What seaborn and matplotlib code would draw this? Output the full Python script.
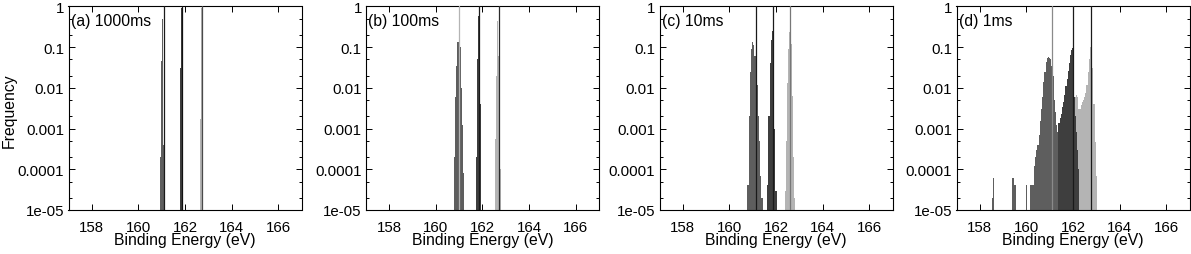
import matplotlib
matplotlib.use("Agg")

import matplotlib.pyplot as plt  # noqa: E402
import numpy as np  # noqa: E402
import pandas as pd  # noqa: E402
import seaborn as sns  # noqa: E402
from matplotlib.ticker import FixedLocator, LogLocator, NullFormatter, NullLocator  # noqa: E402

# ── Data ─────────────────────────────────────────────────────────────────────
BIN = 0.05  # eV per histogram bin
X_LIM = (157, 167)
Y_LIM = (1e-5, 1)
X_TICKS = [158, 160, 162, 164, 166]
Y_TICKS = [1e-5, 1e-4, 1e-3, 1e-2, 1e-1, 1]
Y_TICK_LABELS = ["1e-05", "0.0001", "0.001", "0.01", "0.1", "1"]
PANEL_LABELS = ["(a) 1000ms", "(b) 100ms", "(c) 10ms", "(d) 1ms"]

# each peak: centre of first bin (eV), frequency of consecutive bins
A1_START, A1 = 160.95, [2e-4, 0.046, 0.48, 4e-4]
A2_START, A2 = 161.80, [0.03, 0.9, 3.5e-4]
A3_START, A3 = 162.65, [1.7e-3, 0.9, 0.018]

B1_START, B1 = 160.80, [2e-4, 6e-3, 0.035, 0.13, 0.23, 0.1, 0.01, 1.2e-3, 8e-5]
B2_START, B2 = 161.75, [2e-4, 0.05, 0.57, 4e-3]
B3_START, B3 = 162.55, [5.5e-4, 0.02, 0.44, 0.06, 1e-4]

C1_START, C1 = 160.80, [4e-5, 2e-3, 0.025, 0.09, 0.13, 0.11, 0.06, 0.03,
                        0.012, 2e-3, 5e-4, 7e-5, 2e-5]
C2_START, C2 = 161.65, [4e-5, 2e-3, 0.04, 0.15, 0.25, 0.05, 1e-3, 3e-5]
C3_START, C3 = 162.40, [3e-5, 5e-4, 0.013, 0.09, 0.23, 0.12, 6.3e-3, 2e-4, 2e-5]

D1_START, D1 = 158.55, [2e-5, 6e-5,
                        0, 0, 0, 0, 0, 0, 0, 0, 0, 0, 0, 0, 0, 0, 0,
                        6e-5, 6e-5, 4e-5, 4e-5,
                        0, 0, 0, 0, 0, 0, 0, 0,
                        4e-5, 0, 0, 0,
                        4e-5, 4e-5, 4e-5, 1.2e-4, 2e-4, 3e-4, 4e-4, 7e-4,
                        1.5e-3, 3e-3, 6e-3, 0.014, 0.025, 0.042, 0.053, 0.057,
                        0.055, 0.05, 0.035, 0.02, 5e-3, 2.5e-3, 1.2e-3, 8e-4,
                        4e-4, 1e-4]
D2_START, D2 = 161.40, [1.4e-3, 1.8e-3, 2.3e-3, 3.4e-3, 4.5e-3, 6.5e-3, 0.011,
                        0.016, 0.026, 0.04, 0.062, 0.085, 0.095, 6e-3, 2e-3,
                        8e-4, 3e-4, 1e-4]
D3_START, D3 = 162.10, [6e-3, 6.5e-3, 6e-3, 3e-3, 3e-3, 3.8e-3, 4.4e-3, 5e-3,
                        6e-3, 7.6e-3, 0.012, 0.025, 0.05, 0.1, 0.1, 0.03, 4e-3,
                        4.6e-4, 7e-5]

PANELS = [
    [(A1_START, A1), (A2_START, A2), (A3_START, A3)],
    [(B1_START, B1), (B2_START, B2), (B3_START, B3)],
    [(C1_START, C1), (C2_START, C2), (C3_START, C3)],
    [(D1_START, D1), (D2_START, D2), (D3_START, D3)],
]

# reference level positions (eV) drawn as vertical lines
LEVELS = [
    [161.09, 161.89, 162.72],
    [161.01, 161.87, 162.69],
    [161.15, 161.87, 162.62],
    [161.11, 162.02, 162.77],
]
LEVEL_COLORS = [
    ["#1a1a1a", "#111111", "#4a4a4a"],
    ["#b4b4b4", "#1a1a1a", "#2a2a2a"],
    ["#1a1a1a", "#1a1a1a", "#777777"],
    ["#8a8a8a", "#1a1a1a", "#1a1a1a"],
]

PEAK_COLORS = ["#5e5e5e", "#3e3e3e", "#b4b4b4"]
DRAW_ORDER = [2, 0, 1]  # light peak first, darkest on top

# ── Figure ───────────────────────────────────────────────────────────────────
sns.set_theme(style="ticks")
plt.rcParams["font.family"] = ["Liberation Sans", "DejaVu Sans"]
plt.rcParams["axes.linewidth"] = 0.8

W, H = 1191, 255
fig = plt.figure(figsize=(W / 100, H / 100), dpi=100)
lefts = [68.5, 366.0, 659.5, 956.5]
ax_w, ax_top, ax_bot = 233.0, 7.3, 211.0

for i, left in enumerate(lefts):
    ax = fig.add_axes([left / W, (H - ax_bot) / H, ax_w / W, (ax_bot - ax_top) / H])
    ax.set_facecolor("white")
    ax.set_yscale("log")

    for k in DRAW_ORDER:
        start, vals = PANELS[i][k]
        centres = np.round(start + BIN * np.arange(len(vals)), 3)
        edges = [float(e) for e in np.append(centres - BIN / 2, centres[-1] + BIN / 2)]
        df = pd.DataFrame({"energy": centres, "freq": vals})
        # bins are ~1 px wide: no antialiasing, so neighbouring bars leave no seams
        sns.histplot(data=df, x="energy", weights="freq", bins=edges,
                     element="bars", color=PEAK_COLORS[k], alpha=1,
                     linewidth=0, antialiased=False, ax=ax, zorder=2)

    for x, c in zip(LEVELS[i], LEVEL_COLORS[i]):
        ax.axvline(x, color=c, linewidth=0.9, zorder=3)

    ax.set_xlim(*X_LIM)
    ax.set_ylim(*Y_LIM)
    ax.xaxis.set_major_locator(FixedLocator(X_TICKS))
    ax.xaxis.set_minor_locator(NullLocator())
    ax.yaxis.set_major_locator(FixedLocator(Y_TICKS))
    ax.set_yticklabels(Y_TICK_LABELS)
    ax.yaxis.set_minor_locator(LogLocator(base=10, subs=(2.0, 5.0), numticks=20))
    ax.yaxis.set_minor_formatter(NullFormatter())

    ax.tick_params(which="both", direction="in", top=True, right=True,
                   colors="black", width=0.7, labelsize=10.8)
    ax.tick_params(which="major", length=4)
    ax.tick_params(which="minor", length=2)
    ax.tick_params(axis="x", pad=7)
    ax.tick_params(axis="y", pad=3)
    for s in ax.spines.values():
        s.set_color("black")

    ax.set_ylabel("")
    ax.set_xlabel("Binding Energy (eV)", fontsize=11.3, color="black")
    ax.xaxis.set_label_coords(0.5, -0.108)
    ax.xaxis.label.set_va("top")

    ax.text(0.01, 0.929, PANEL_LABELS[i], transform=ax.transAxes,
            ha="left", va="center", fontsize=11.3, color="black")

fig.text(9.5 / W, (H - 111) / H, "Frequency", rotation=90, ha="center",
         va="center", fontsize=11.3, color="black")

fig.savefig("out.png", dpi=100, facecolor="white")
